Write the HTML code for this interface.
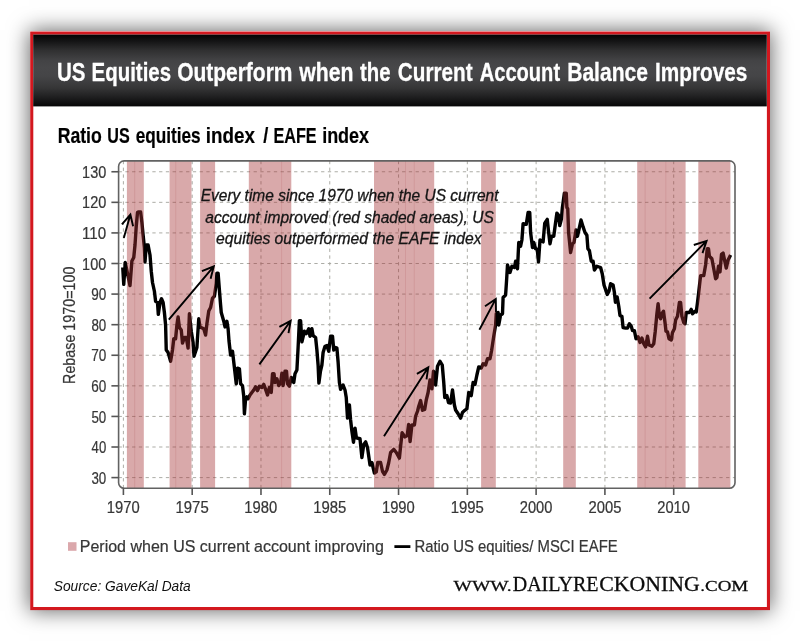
<!DOCTYPE html>
<html lang="en"><head><meta charset="utf-8"><title>US Equities Outperform when the Current Account Balance Improves</title>
<style>
html,body{margin:0;padding:0;background:#fff;}
body{width:800px;height:641px;position:relative;overflow:hidden;font-family:"Liberation Sans",sans-serif;}
#card{position:absolute;left:30px;top:31px;width:740px;height:579px;background:#fff;
  box-shadow:0 0 20px 1px rgba(0,0,0,.60);}
svg{position:absolute;left:0;top:0;will-change:transform;}
text{font-family:"Liberation Sans",sans-serif;}
.ttl{font-size:25.4px;font-weight:bold;fill:#fff;stroke:#fff;stroke-width:.3;}
.sub{font-size:21.2px;font-weight:bold;fill:#000;stroke:#000;stroke-width:.2;}
.ax{font-size:15.6px;fill:#363636;stroke:#363636;stroke-width:.22;}
.it{font-style:italic;font-size:15.6px;fill:#151515;stroke:#151515;stroke-width:.3;}
.lg{font-size:16.3px;fill:#363636;stroke:#363636;stroke-width:.22;}
.src{font-size:14.8px;font-style:italic;fill:#111;}
.ser text{font-family:"Liberation Serif",serif;fill:#0c0c0c;stroke:#0c0c0c;stroke-width:.28;}
</style></head><body>
<div id="card"></div>
<svg width="800" height="641" viewBox="0 0 800 641">
<defs><clipPath id="pc"><rect x="118.6" y="160.9" width="616.4" height="327.4" rx="5.5"/></clipPath>
<linearGradient id="bg" x1="0" y1="0" x2="0" y2="1"><stop offset="0" stop-color="#020202"/><stop offset=".10" stop-color="#161617"/><stop offset=".22" stop-color="#303031"/><stop offset=".36" stop-color="#434345"/><stop offset=".46" stop-color="#474749"/><stop offset=".58" stop-color="#454547"/><stop offset=".74" stop-color="#363637"/><stop offset=".88" stop-color="#1d1d1e"/><stop offset="1" stop-color="#060606"/></linearGradient></defs>
<rect x="31.75" y="33.05" width="736.7" height="575.5" fill="none" stroke="#d3181f" stroke-width="3.1"/>
<rect x="33.2" y="34.6" width="733.6" height="71.8" fill="url(#bg)"/>
<g class="ttl">
<text x="57.04" y="80.80" textLength="28.50" lengthAdjust="spacingAndGlyphs" >US</text>
<text x="91.52" y="80.80" textLength="79.61" lengthAdjust="spacingAndGlyphs" >Equities</text>
<text x="177.14" y="80.80" textLength="115.34" lengthAdjust="spacingAndGlyphs" >Outperform</text>
<text x="299.33" y="80.80" textLength="54.19" lengthAdjust="spacingAndGlyphs" >when</text>
<text x="360.00" y="80.80" textLength="30.51" lengthAdjust="spacingAndGlyphs" >the</text>
<text x="397.85" y="80.80" textLength="74.75" lengthAdjust="spacingAndGlyphs" >Current</text>
<text x="479.69" y="80.80" textLength="80.41" lengthAdjust="spacingAndGlyphs" >Account</text>
<text x="567.18" y="80.80" textLength="80.84" lengthAdjust="spacingAndGlyphs" >Balance</text>
<text x="654.95" y="80.80" textLength="92.39" lengthAdjust="spacingAndGlyphs" >Improves</text>
</g>
<g class="sub">
<text x="57.65" y="142.60" textLength="44.18" lengthAdjust="spacingAndGlyphs" >Ratio</text>
<text x="107.24" y="142.60" textLength="22.43" lengthAdjust="spacingAndGlyphs" >US</text>
<text x="135.71" y="142.60" textLength="64.98" lengthAdjust="spacingAndGlyphs" >equities</text>
<text x="205.83" y="142.60" textLength="49.05" lengthAdjust="spacingAndGlyphs" >index</text>
<text x="263.20" y="142.60" textLength="5.04" lengthAdjust="spacingAndGlyphs" >/</text>
<text x="273.49" y="142.60" textLength="43.19" lengthAdjust="spacingAndGlyphs" >EAFE</text>
<text x="322.13" y="142.60" textLength="47.01" lengthAdjust="spacingAndGlyphs" >index</text>
</g>
<g clip-path="url(#pc)">
<g stroke="#a8a8a1" stroke-width=".95" stroke-dasharray="3.3 3.45" fill="none">
<line x1="118.6" y1="477.60" x2="735.0" y2="477.60"/>
<line x1="118.6" y1="447.01" x2="735.0" y2="447.01"/>
<line x1="118.6" y1="416.43" x2="735.0" y2="416.43"/>
<line x1="118.6" y1="385.85" x2="735.0" y2="385.85"/>
<line x1="118.6" y1="355.26" x2="735.0" y2="355.26"/>
<line x1="118.6" y1="324.68" x2="735.0" y2="324.68"/>
<line x1="118.6" y1="294.09" x2="735.0" y2="294.09"/>
<line x1="118.6" y1="263.50" x2="735.0" y2="263.50"/>
<line x1="118.6" y1="232.92" x2="735.0" y2="232.92"/>
<line x1="118.6" y1="202.34" x2="735.0" y2="202.34"/>
<line x1="118.6" y1="171.75" x2="735.0" y2="171.75"/>
<line x1="123.40" y1="160.9" x2="123.40" y2="488.3"/>
<line x1="192.19" y1="160.9" x2="192.19" y2="488.3"/>
<line x1="260.98" y1="160.9" x2="260.98" y2="488.3"/>
<line x1="329.76" y1="160.9" x2="329.76" y2="488.3"/>
<line x1="398.55" y1="160.9" x2="398.55" y2="488.3"/>
<line x1="467.34" y1="160.9" x2="467.34" y2="488.3"/>
<line x1="536.12" y1="160.9" x2="536.12" y2="488.3"/>
<line x1="604.91" y1="160.9" x2="604.91" y2="488.3"/>
<line x1="673.70" y1="160.9" x2="673.70" y2="488.3"/>
</g>
<polyline points="122.75,267.5 123.75,284.4 125.25,262.5 130,285.6 131.9,261 133.75,257.5 135,245 136.25,226.25 137.5,212.5 138.1,211.9 140.6,211.9 141.9,222.5 143.1,235 144.4,247.5 145,262 146.25,245 148.1,245 150,255 151.25,271.25 152.5,282.5 154.4,291.25 155.6,301.25 157.5,302.5 158.3,314.4 160,302.5 161.5,298.75 163.1,302.5 164.4,312.5 165.6,325 166.25,350 168.1,352.5 170.6,361.25 172.5,350 173.75,338.75 175.6,338.75 176.9,325 178.1,316.9 179.4,327.5 181.25,330 182.5,343.1 184.4,337.5 186.25,337.5 188.1,348.1 189.4,313.75 191.25,331.25 193.1,342.5 194,356.25 196.9,347.5 198.75,318.75 200,326.9 203.75,328.75 205.6,335 206.9,323.75 208.75,311 210.6,307.5 212.5,298.1 214.4,296.25 216.25,283.75 216.9,273.1 218.1,273.1 219.4,290 220.6,305 221.25,312.5 223.75,321.25 225,326.9 226.9,321.25 228.1,328.75 229,341 230.6,355 232.5,351.25 234.4,367.5 236.25,383.75 237.5,368.1 239.4,368.75 240.6,383.75 242.5,385.6 243.75,396.25 244.4,413.75 245.6,398.75 246.9,396.9 248.1,398.75 250,395 253.75,390 255.6,386.9 257.5,390.6 259.4,386.25 261.9,387.5 263.75,384.4 265.6,389.4 267.5,395 269.4,387.5 271.25,392.5 272.5,373.75 274,373.75 275,382.5 276.9,378.75 278.75,385.6 280.6,383.1 281.9,373.1 283.1,385.6 285,371.25 286.5,371.25 287.5,383.75 289.4,386.25 291.25,377.5 293.75,382.5 295,373.75 296.9,370 298.1,347.5 299.4,320.6 300.6,320.6 301.9,341.9 304.4,331.25 306.25,333.75 308.75,328.75 310,336.25 311.9,328.75 313.1,335.6 315.6,337.5 316.9,350 318.1,365 318.9,383.1 320.5,371 321.9,365 323.1,352.5 325,346.25 326.9,345.6 328.75,351.25 330.6,336.25 332.5,336.25 333.75,350 335.6,347.5 336.9,348.1 338.1,362 339.4,382.5 340.6,389.4 343.1,385 345,390 346.25,397.5 347.5,418.1 349.4,405 350.6,420 351.9,431.25 353.5,442.2 355,428.1 356.4,437.8 360,438.75 361.9,457.5 363.75,444.4 365.6,441.9 367.5,447.5 370,465 371.9,462.5 374.4,473.1 376.25,471.9 377.75,462.5 380.6,462.5 382.5,471.25 384.4,474.4 386.9,470 388.75,462.5 390.6,452.5 393.75,449.4 396.25,452.5 399.4,458.1 400.6,446.25 402.1,432.8 405,436.9 407.2,435.6 408.6,424.4 410.1,441.6 411.9,425 414.4,425 415.6,416.25 417.5,411.25 418.75,406.25 420.6,400.6 422.5,410.3 424.7,409.4 426.25,400 428.1,392.5 430,380 431.9,388.75 433.5,371.25 435.6,385 437.5,366.25 440,361.25 442.25,365 443.75,382.5 444.75,397.5 446.9,395.6 448.5,402.5 450.6,403.1 452.5,390 454.4,405 455.6,410 458.1,413.75 460.6,418.1 462.5,412.5 464.4,410.6 466.9,408.75 468.75,392.5 471.25,395.6 473.1,382.5 475,384.4 476.9,375 478.75,366.9 481.25,368.1 483.1,363.75 485.6,365 487.5,358.75 490,358.75 491.6,350.5 493.75,336.25 495.6,325 496.25,313.75 498.1,312.5 498.75,325 500.6,315 502.5,313.75 503.1,297.5 505.6,295 506.5,281.5 507.5,265 510,272.5 511.9,266.25 514.4,267.5 515.6,261.25 517.5,268.75 518.75,242.5 520.6,246.25 521.9,240 523.1,223.75 526.25,224.4 528.1,212.5 529.75,212.5 530.6,232.5 532.5,247.5 533.75,242.5 535.6,248.75 537.25,249.4 538.5,261.9 540,240 543.1,241.9 544.75,223.1 547.25,219.4 548.5,231.25 550,243.75 551.5,236.25 553.75,236.25 555.25,225 556.9,213.1 558.5,215 559.75,225.6 561.4,219 562.4,207.5 564.4,193.1 566.25,193.1 566.9,207.5 567.75,208.75 568.6,232.5 570.6,252.5 572.5,243.75 574,242.5 576,230 577.5,236.25 579,229.4 581,220 583.1,226.9 585,232.5 586.9,235.3 587.9,248.75 589.4,250.6 591.25,261.25 593.1,261.25 594.4,270 596.9,266.25 600.6,267.5 602.25,273.75 604,285 607.25,294.4 609,291.25 610.6,283.75 613.1,285 614.4,292.5 615.4,302.2 617.1,296.9 618.75,306.25 620,315.6 621.9,316.25 623.1,327.5 625.6,328.1 627.5,328.1 629.4,323.75 631.25,326.25 632.5,330.6 634.4,330.6 636,338.75 638.1,336.9 640,342.5 641.9,338.1 643.75,343.75 645.6,346.9 647.5,336.25 649,345 651.9,346.25 653.75,343.75 655.25,331.25 656.9,313.75 658.1,303.75 659.4,316.25 660.6,318.75 661.9,313.75 663.5,311.25 665,322.5 666,331.25 667.5,331.9 669,338.75 671.25,340 672.5,332.5 674.4,328.75 675.6,320 677.5,316.25 679.4,302.5 680.6,302.5 681.9,316.25 683.75,322.5 685,323.75 686.25,312.5 689.4,312.5 691.25,309.4 692.5,313.75 695,311.25 696.25,311.9 697.5,302.5 698.75,292 700.6,275.6 703.75,275.6 705.6,265 707.25,248.75 708.5,248.75 709.4,256.25 711.9,258.75 713.75,268.75 715.6,278.75 716.9,277.5 718.5,266.25 720,271.9 721.5,254.4 723.1,253.1 724.4,259.4 726.25,268.1 728.1,260 730.6,255" fill="none" stroke="#000" stroke-width="3.4" stroke-linejoin="round" stroke-linecap="butt"/>
<g fill="rgb(165,50,52)" fill-opacity=".42">
<rect x="126.9" y="160.9" width="16.9" height="327.4"/>
<rect x="169.6" y="160.9" width="21.9" height="327.4"/>
<rect x="200.1" y="160.9" width="15.0" height="327.4"/>
<rect x="248.8" y="160.9" width="42.5" height="327.4"/>
<rect x="374.0" y="160.9" width="60.2" height="327.4"/>
<rect x="481.1" y="160.9" width="14.7" height="327.4"/>
<rect x="563.2" y="160.9" width="12.6" height="327.4"/>
<rect x="637.2" y="160.9" width="48.4" height="327.4"/>
<rect x="698.3" y="160.9" width="32.1" height="327.4"/>
</g>
<g stroke="rgb(150,40,45)" stroke-opacity=".14" stroke-width=".9">
<line x1="134.70" y1="160.9" x2="134.70" y2="488.3"/>
<line x1="175.75" y1="160.9" x2="175.75" y2="488.3"/>
<line x1="281.60" y1="160.9" x2="281.60" y2="488.3"/>
<line x1="405.50" y1="160.9" x2="405.50" y2="488.3"/>
<line x1="414.25" y1="160.9" x2="414.25" y2="488.3"/>
<line x1="645.10" y1="160.9" x2="645.10" y2="488.3"/>
<line x1="665.80" y1="160.9" x2="665.80" y2="488.3"/>
</g>
</g>
<rect x="118.6" y="160.9" width="616.4" height="327.4" rx="5.5" fill="none" stroke="#626262" stroke-width="1.6"/>
<g stroke="#555" stroke-width="1.6">
<line x1="111.4" y1="477.60" x2="118.6" y2="477.60"/>
<line x1="111.4" y1="447.01" x2="118.6" y2="447.01"/>
<line x1="111.4" y1="416.43" x2="118.6" y2="416.43"/>
<line x1="111.4" y1="385.85" x2="118.6" y2="385.85"/>
<line x1="111.4" y1="355.26" x2="118.6" y2="355.26"/>
<line x1="111.4" y1="324.68" x2="118.6" y2="324.68"/>
<line x1="111.4" y1="294.09" x2="118.6" y2="294.09"/>
<line x1="111.4" y1="263.50" x2="118.6" y2="263.50"/>
<line x1="111.4" y1="232.92" x2="118.6" y2="232.92"/>
<line x1="111.4" y1="202.34" x2="118.6" y2="202.34"/>
<line x1="111.4" y1="171.75" x2="118.6" y2="171.75"/>
<line x1="123.40" y1="488.3" x2="123.40" y2="495"/>
<line x1="192.19" y1="488.3" x2="192.19" y2="495"/>
<line x1="260.98" y1="488.3" x2="260.98" y2="495"/>
<line x1="329.76" y1="488.3" x2="329.76" y2="495"/>
<line x1="398.55" y1="488.3" x2="398.55" y2="495"/>
<line x1="467.34" y1="488.3" x2="467.34" y2="495"/>
<line x1="536.12" y1="488.3" x2="536.12" y2="495"/>
<line x1="604.91" y1="488.3" x2="604.91" y2="495"/>
<line x1="673.70" y1="488.3" x2="673.70" y2="495"/>
</g>
<g stroke="#000" stroke-width="1.9" fill="none" stroke-linecap="butt" stroke-linejoin="miter">
<path d="M123.8 238.1L130.4 214.6M121.9 224.4L130.4 214.6L133.1 226.2"/>
<path d="M168.8 319.6L213.8 266.3M201.9 271.2L213.8 266.3L210.6 278.8"/>
<path d="M259.4 364.4L290.7 320.7M279.4 326.9L290.7 320.7L288.5 333.1"/>
<path d="M384.0 436.2L428.3 367.3M416.9 373.8L428.3 367.3L426.5 379.4"/>
<path d="M479.4 329.8L495.8 298.9M485.0 306.2L495.8 298.9L496.0 312.0"/>
<path d="M649.6 298.6L706.6 240.9M693.8 245.0L706.6 240.9L702.5 253.1"/>
</g>
<g class="ax">
<text x="91.38" y="483.70" textLength="14.85" lengthAdjust="spacingAndGlyphs" >30</text>
<text x="91.59" y="453.12" textLength="14.63" lengthAdjust="spacingAndGlyphs" >40</text>
<text x="91.38" y="422.53" textLength="14.85" lengthAdjust="spacingAndGlyphs" >50</text>
<text x="91.16" y="391.95" textLength="15.07" lengthAdjust="spacingAndGlyphs" >60</text>
<text x="91.16" y="361.36" textLength="15.07" lengthAdjust="spacingAndGlyphs" >70</text>
<text x="91.38" y="330.78" textLength="14.85" lengthAdjust="spacingAndGlyphs" >80</text>
<text x="91.16" y="300.19" textLength="15.07" lengthAdjust="spacingAndGlyphs" >90</text>
<text x="82.09" y="269.61" textLength="24.17" lengthAdjust="spacingAndGlyphs" >100</text>
<text x="82.05" y="239.02" textLength="24.23" lengthAdjust="spacingAndGlyphs" >110</text>
<text x="82.09" y="208.44" textLength="24.17" lengthAdjust="spacingAndGlyphs" >120</text>
<text x="82.09" y="177.85" textLength="24.17" lengthAdjust="spacingAndGlyphs" >130</text>
<text x="106.78" y="513.40" textLength="32.89" lengthAdjust="spacingAndGlyphs" >1970</text>
<text x="175.56" y="513.40" textLength="33.13" lengthAdjust="spacingAndGlyphs" >1975</text>
<text x="244.35" y="513.40" textLength="32.89" lengthAdjust="spacingAndGlyphs" >1980</text>
<text x="313.13" y="513.40" textLength="33.13" lengthAdjust="spacingAndGlyphs" >1985</text>
<text x="381.93" y="513.40" textLength="32.89" lengthAdjust="spacingAndGlyphs" >1990</text>
<text x="450.71" y="513.40" textLength="33.13" lengthAdjust="spacingAndGlyphs" >1995</text>
<text x="519.74" y="513.40" textLength="32.65" lengthAdjust="spacingAndGlyphs" >2000</text>
<text x="588.52" y="513.40" textLength="32.89" lengthAdjust="spacingAndGlyphs" >2005</text>
<text x="657.31" y="513.40" textLength="32.65" lengthAdjust="spacingAndGlyphs" >2010</text>
<text transform="translate(74.6 382.8) rotate(-90)" x="-1.12" y="0" textLength="117.27" lengthAdjust="spacingAndGlyphs">Rebase 1970=100</text>
</g>
<g class="it">
<text x="200.76" y="201.00" textLength="297.71" lengthAdjust="spacingAndGlyphs" >Every time since 1970 when the US current</text>
<text x="205.36" y="222.80" textLength="288.41" lengthAdjust="spacingAndGlyphs" >account improved (red shaded areas), US</text>
<text x="216.11" y="244.40" textLength="265.40" lengthAdjust="spacingAndGlyphs" >equities outperformed the EAFE index</text>
</g>
<rect x="68" y="542.2" width="8.5" height="8.6" fill="#dba8ac"/>
<line x1="394.4" y1="546.6" x2="410.4" y2="546.6" stroke="#000" stroke-width="2.8"/>
<g class="lg">
<text x="79.75" y="551.60" textLength="304.15" lengthAdjust="spacingAndGlyphs" >Period when US current account improving</text>
<text x="414.44" y="551.60" textLength="203.19" lengthAdjust="spacingAndGlyphs" >Ratio US equities/ MSCI EAFE</text>
</g>
<g class="src"><text x="53.78" y="591.00" textLength="136.96" lengthAdjust="spacingAndGlyphs" >Source: GaveKal Data</text></g>
<g class="ser">
<text x="453.60" y="591.00" textLength="58.11" lengthAdjust="spacingAndGlyphs" font-size="15.3">WWW.</text>
<text x="512.69" y="591.00" textLength="85.78" lengthAdjust="spacingAndGlyphs" font-size="20.5">DAILYRE</text>
<text x="599.32" y="591.00" textLength="100.50" lengthAdjust="spacingAndGlyphs" font-size="20.5">CKONING</text>
<text x="700.21" y="591.00" textLength="48.06" lengthAdjust="spacingAndGlyphs" font-size="15.3">.COM</text>
</g>
</svg></body></html>
